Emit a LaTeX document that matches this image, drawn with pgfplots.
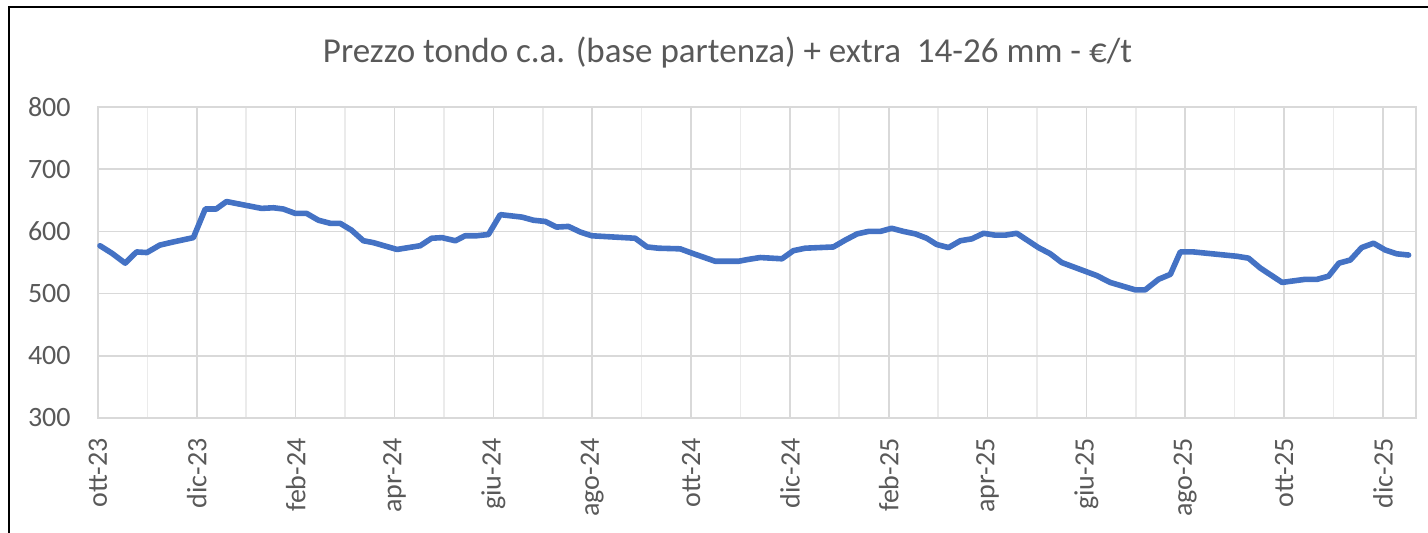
\documentclass[border=0pt]{standalone}
\usepackage{fontspec}
\setmainfont{Carlito}
\usepackage{pgfplots}
\pgfplotsset{compat=1.18}
\definecolor{linec}{HTML}{4472C4}
\definecolor{txt}{HTML}{595959}
\definecolor{gmaj}{HTML}{D9D9D9}
\definecolor{gmin}{HTML}{EBEBEB}
\begin{document}
\begin{tikzpicture}
\useasboundingbox (0,0) rectangle (714pt,266pt);
\begin{scope}
\clip (0,0) rectangle (714pt,266pt);
\draw[line width=1.1pt,black] (4.5pt,-20pt) -- (4.5pt,262.5pt) -- (740pt,262.5pt);
\end{scope}
\node[anchor=base,text=txt,font=\fontsize{17.5}{20}\selectfont,inner sep=0pt] at (363.75pt,234.6pt) {Prezzo tondo c.a. (base partenza) + extra\ \ 14-26 mm - €/t};
\begin{axis}[
  at={(49pt,57pt)}, anchor=south west,
  scale only axis, width=659pt, height=155.5pt,
  xmin=0, xmax=26.67, ymin=300, ymax=800,
  ytick={300,400,...,800},
  xtick={0,2,...,26},
  minor xtick={1,3,...,25},
  xticklabels={ott-23,dic-23,feb-24,apr-24,giu-24,ago-24,ott-24,dic-24,feb-25,apr-25,giu-25,ago-25,ott-25,dic-25},
  grid=both,
  major grid style={gmaj, line width=0.8pt},
  minor grid style={gmin, line width=0.8pt},
  axis line style={gmaj, line width=0.8pt},
  major tick length=0pt, minor tick length=0pt,
  tick style={draw=none},
  /pgf/number format/assume math mode=true,
  ticklabel style={font=\fontsize{14}{16}\selectfont, text=txt, inner sep=0pt},
  xticklabel style={rotate=90, anchor=east},
  yticklabel style={anchor=east},
  xticklabel shift=10pt,
  yticklabel shift=13.5pt,
  clip=false,
]
\addplot[linec, line width=2.8pt, line join=round, line cap=round] coordinates {
(0.04,577) (0.28,565) (0.55,549) (0.78,567) (0.99,566) (1.25,578) (1.52,583) (1.93,590)
(2.17,636) (2.39,636) (2.60,648) (3.31,637) (3.55,638) (3.75,636) (3.99,629) (4.22,629)
(4.46,618) (4.70,613) (4.90,613) (5.13,602) (5.37,585) (5.57,582) (6.05,571) (6.52,577)
(6.75,589) (6.96,590) (7.23,585) (7.43,593) (7.66,593) (7.90,595) (8.14,627) (8.58,623)
(8.81,618) (9.05,616) (9.28,607) (9.52,608) (9.76,599) (9.99,593) (10.87,589) (11.11,575)
(11.34,573) (11.78,572) (12.02,565) (12.49,552) (12.96,552) (13.16,555) (13.40,558) (13.84,556)
(14.07,569) (14.31,573) (14.88,575) (15.12,586) (15.36,596) (15.59,600) (15.83,600) (16.06,605)
(16.30,600) (16.54,596) (16.77,589) (16.97,579) (17.21,574) (17.45,585) (17.68,588) (17.92,597)
(18.15,594) (18.36,594) (18.59,597) (19.03,574) (19.27,564) (19.50,550) (20.21,529) (20.48,518)
(20.99,506) (21.19,506) (21.46,523) (21.70,531) (21.90,567) (22.17,567) (23.05,560) (23.28,557)
(23.52,541) (23.96,518) (24.43,523) (24.67,523) (24.90,528) (25.11,549) (25.34,554) (25.57,574)
(25.81,581) (26.05,570) (26.28,564) (26.52,562)
};
\end{axis}
\end{tikzpicture}
\end{document}
